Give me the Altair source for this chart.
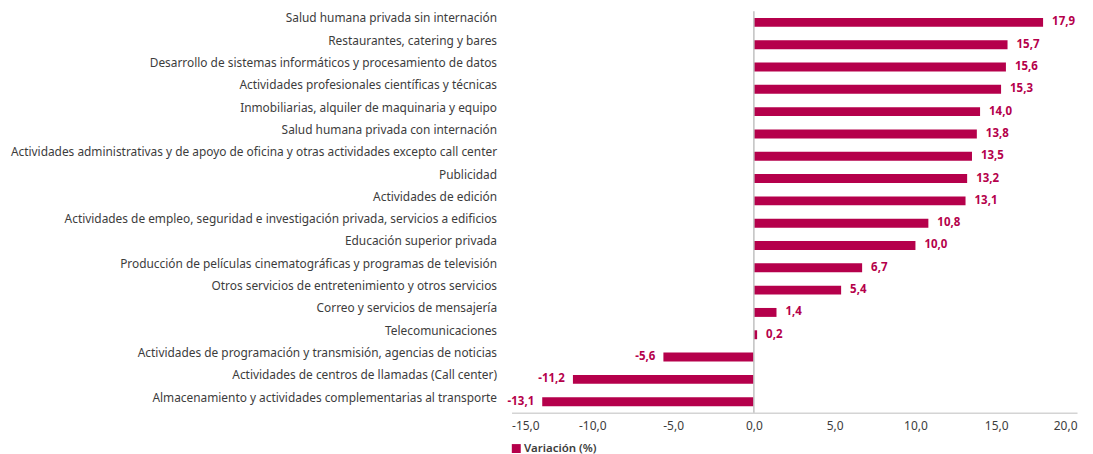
import altair as alt
import pandas as pd

categorias = [
    "Salud humana privada sin internación",
    "Restaurantes, catering y bares",
    "Desarrollo de sistemas informáticos y procesamiento de datos",
    "Actividades profesionales científicas y técnicas",
    "Inmobiliarias, alquiler de maquinaria y equipo",
    "Salud humana privada con internación",
    "Actividades administrativas y de apoyo de oficina y otras actividades excepto call center",
    "Publicidad",
    "Actividades de edición",
    "Actividades de empleo, seguridad e investigación privada, servicios a edificios",
    "Educación superior privada",
    "Producción de películas cinematográficas y programas de televisión",
    "Otros servicios de entretenimiento y otros servicios",
    "Correo y servicios de mensajería",
    "Telecomunicaciones",
    "Actividades de programación y transmisión,  agencias de noticias",
    "Actividades de centros de llamadas (Call center)",
    "Almacenamiento y actividades complementarias al transporte",
]
variacion = [17.9, 15.7, 15.6, 15.3, 14.0, 13.8, 13.5, 13.2, 13.1, 10.8,
             10.0, 6.7, 5.4, 1.4, 0.2, -5.6, -11.2, -13.1]
ticks = [-15, -10, -5, 0, 5, 10, 15, 20]
serie = "Variación (%)"

COLOR = "#b5004b"
FONT = "Noto Sans"
TEXT = "#3c3c3c"

df = pd.DataFrame({"cat": categorias, "v": variacion, "serie": [serie] * len(categorias)})
zero = pd.DataFrame({"x": [0]})

y_enc = alt.Y(
    "cat:N", sort=categorias, title=None,
    scale=alt.Scale(paddingInner=0.6, paddingOuter=0.3),
    axis=alt.Axis(domain=False, ticks=False, labelPadding=15, labelOffset=-4,
                  labelFontSize=11.9, labelColor=TEXT, labelFont=FONT, labelLimit=700),
)
x_enc = alt.X(
    "v:Q", title=None,
    scale=alt.Scale(domain=[-15, 20], nice=False),
    axis=alt.Axis(values=ticks, grid=False, ticks=False, domainColor="#d4d4d4", domainWidth=1.5,
                  labelExpr="replace(replace(format(datum.value, '.1f'), '.', ','), '\u2212', '-')",
                  labelFontSize=12, labelColor=TEXT, labelFont=FONT, labelPadding=8),
)

base = alt.Chart(df)

bars = base.mark_bar().encode(
    x=x_enc, y=y_enc,
    color=alt.Color("serie:N", scale=alt.Scale(range=[COLOR]),
                    legend=alt.Legend(orient="none", legendX=-1, legendY=432, title=None,
                                      symbolType="square", symbolSize=80, symbolStrokeWidth=0,
                                      labelFontSize=11.5, labelFontWeight=600,
                                      labelColor=TEXT, labelFont=FONT, labelOffset=2)),
)

rule = alt.Chart(zero).mark_rule(color="#c0c0c0", strokeWidth=1.5).encode(x="x:Q")

lab_expr = "replace(replace(format(datum.v, '.1f'), '.', ','), '\u2212', '-')"
pos = base.transform_filter("datum.v >= 0").transform_calculate(lab=lab_expr).mark_text(
    align="left", dx=9, fontSize=11.5, fontWeight="bold", color=COLOR, font=FONT
).encode(x="v:Q", y=alt.Y("cat:N", sort=categorias), text="lab:N")
neg = base.transform_filter("datum.v < 0").transform_calculate(lab=lab_expr).mark_text(
    align="right", dx=-8, fontSize=11.5, fontWeight="bold", color=COLOR, font=FONT
).encode(x="v:Q", y=alt.Y("cat:N", sort=categorias), text="lab:N")

chart = alt.layer(bars, rule, pos, neg).properties(
    width=566, height=402,
    autosize=alt.AutoSizeParams(type="none"),
    padding={"left": 504, "top": 3, "right": 8, "bottom": 46},
).configure_view(stroke=None)

chart.save("out.html", embed_options={"renderer": "svg", "actions": False})
